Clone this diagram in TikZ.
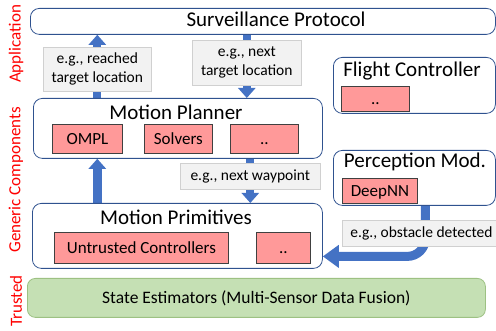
\documentclass[tikz,border=0pt]{standalone}
\usepackage{fontspec}
\setmainfont{Carlito}
\usetikzlibrary{arrows.meta, positioning, backgrounds}

\definecolor{boxblue}{HTML}{2F528F}
\definecolor{arrowblue}{HTML}{4472C4}
\definecolor{compred}{HTML}{FF9999}
\definecolor{compedge}{HTML}{404040}
\definecolor{notefill}{HTML}{F2F2F2}
\definecolor{noteedge}{HTML}{D0D0D0}
\definecolor{trustfill}{HTML}{C5E0B4}
\definecolor{trustedge}{HTML}{9DC183}
\definecolor{lblred}{HTML}{FF0000}

\tikzset{
  layer/.style = {draw=boxblue, line width=0.8pt, rounded corners=9pt,
                  anchor=north west, inner sep=0pt},
  comp/.style = {draw=compedge, fill=compred, line width=0.8pt,
                 anchor=north west, inner sep=0pt, text height=11pt, text depth=0pt,
                 font=\fontsize{17}{20}\selectfont},
  note/.style = {draw=noteedge, fill=notefill, line width=0.6pt,
                 anchor=north west, inner sep=0pt, align=center,
                 font=\fontsize{15.5}{19}\selectfont},
  title/.style = {anchor=base, inner sep=0pt, font=\fontsize{21}{25}\selectfont},
  layerlabel/.style = {rotate=90, text=lblred, inner sep=0pt,
                       font=\fontsize{17}{20}\selectfont},
  fat/.style = {draw=arrowblue, line width=8pt, -{Triangle[width=17pt,length=10pt]}},
  fatbend/.style = {draw=arrowblue, line width=9pt, rounded corners=18pt,
                    -{Triangle[width=22pt,length=16pt]}}
}

\begin{document}
\begin{tikzpicture}[x=1pt, y=-1pt]
  \useasboundingbox (0,0) rectangle (496,331);

  % layer labels
  \node (applbl) [layerlabel] at (16,44) {Application};
  \node (genlbl) [layerlabel] at (16,180) {Generic Components};
  \node (trulbl) [layerlabel] at (16,301) {Trusted};

  % application
  \node (surv) [layer, minimum width=465, minimum height=26] at (30,8) {};
  \node (survtitle) [title] at (276,27) {Surveillance Protocol};

  % motion planner
  \node (plan) [layer, minimum width=289, minimum height=60] at (33,98) {};
  \node (plantitle) [title] at (176,119.5) {Motion Planner};
  \node (ompl) [comp, minimum width=70, minimum height=29] at (52,124) {OMPL};
  \node (solv) [comp, minimum width=68, minimum height=29] at (144,124) {Solvers};
  \node (pdots) [comp, minimum width=68, minimum height=29] at (230,124) {..};

  % motion primitives
  \node (prim) [layer, minimum width=290, minimum height=65] at (32,203) {};
  \node (primtitle) [title] at (176,225) {Motion Primitives};
  \node (untr) [comp, minimum width=174, minimum height=31] at (54,232) {Untrusted Controllers};
  \node (mdots) [comp, minimum width=54, minimum height=31] at (256,232) {..};

  % flight controller
  \node (fc) [layer, minimum width=162, minimum height=56] at (333,57) {};
  \node (fctitle) [title] at (412,77) {Flight Controller};
  \node (fcdots) [comp, minimum width=68, minimum height=25] at (341,86) {..};

  % perception
  \node (perc) [layer, minimum width=162, minimum height=55] at (333,150) {};
  \node (perctitle) [title] at (415,168) {Perception Mod.};
  \node (dnn) [comp, minimum width=75, minimum height=25] at (342,178) {DeepNN};

  % trusted
  \node (trust) [layer, draw=trustedge, fill=trustfill, rounded corners=8pt,
                 minimum width=458, minimum height=39,
                 font=\fontsize{17.5}{21}\selectfont] at (27,278)
        {State Estimators (Multi-Sensor Data Fusion)};

  % messages
  \node (reach) [note, minimum width=108, minimum height=44] at (43,47)
        {e.g., reached\\target location};
  \node (next) [note, minimum width=109, minimum height=45] at (192,40)
        {e.g., next\\target location};
  \node (wayp) [note, minimum width=140, minimum height=26] at (180,163)
        {e.g., next waypoint};
  \node (obst) [note, inner xsep=8pt, minimum height=26] at (342,220)
        {e.g., obstacle detected};

  \begin{scope}[on background layer]
    \draw [fat] (plan.north -| reach.south) -- (surv.south -| reach.north);
    \draw [fat] (surv.south -| next.north) -- (plan.north -| next.south);
    \draw [fat, line width=9pt] (prim.north -| reach.south) -- (plan.south -| reach.north);
    \draw [fat] (plan.south -| wayp.north) -- (prim.north -| wayp.south);
    \draw [fatbend] ([xshift=11pt]perc.south) |- ([yshift=-20.5pt]prim.east);
  \end{scope}
\end{tikzpicture}
\end{document}
